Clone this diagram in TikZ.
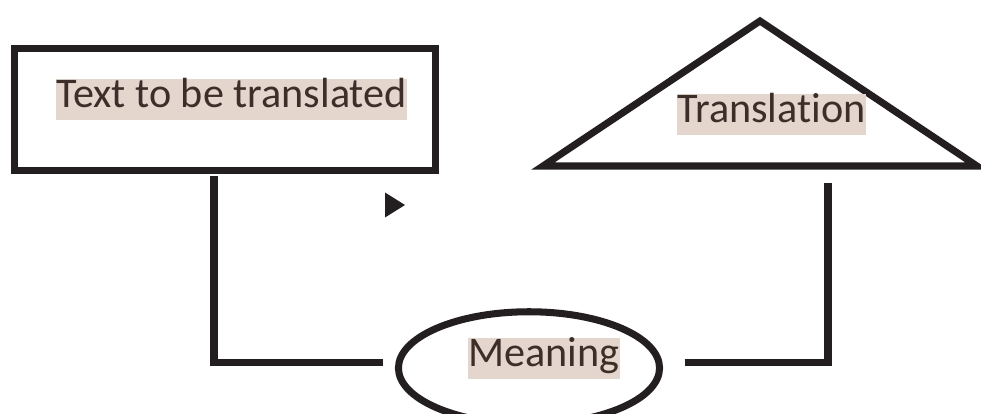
\documentclass[tikz,border=0pt]{standalone}
\usepackage{fontspec}
\setmainfont[Ligatures={NoCommon,NoDiscretionary}]{Carlito}
\usetikzlibrary{shapes.geometric,calc}
\definecolor{lineBlack}{HTML}{231F20}
\definecolor{labelInk}{HTML}{3E2E2A}
\definecolor{labelShade}{HTML}{E4D6CD}

\begin{document}
\begin{tikzpicture}[x=0.025cm,y=-0.025cm,
  outline/.style={draw=lineBlack,line width=5pt,line join=miter,inner sep=0pt},
  link/.style={draw=lineBlack,line width=5pt},
  tag/.style={fill=labelShade,text=labelInk,inner sep=0pt,
    text height=20.5pt,text depth=8.5pt,font=\fontsize{30}{36}\selectfont}]
\useasboundingbox (0,0) rectangle (981,414);

% source text box
\node[outline,rectangle,minimum width=299.4pt,minimum height=87.2pt] (source) at (224.75,109.5) {};
\node[tag] (sourcelbl) at (231.5,99.5) {Text to be translated};

% translation roof
\coordinate (apex) at (760,21);
\coordinate (baseL) at (543,166);
\coordinate (baseR) at (977,166);
\draw[outline] (baseL) -- (apex) -- (baseR) -- cycle;
\node[tag] (targetlbl) at (771.5,114.5) {Translation};

% meaning in the middle
\node[outline,ellipse,minimum width=185.7pt,minimum height=80pt] (meaning) at (529,368) {};
\node[tag] (meaninglbl) at (544,358.5) {Meaning};

% connectors
\coordinate (rise) at (828,183);
\draw[link] ($(source.south)+(-10.75,1.5)$) |- ($(meaning.west)+(-11.5,-5.5)$);
\draw[link] ($(meaning.east)+(21.5,-5.5)$) -| (rise);

\fill[lineBlack] (385,192.5) -- (405,205) -- (385,217.5) -- cycle;
\end{tikzpicture}
\end{document}
